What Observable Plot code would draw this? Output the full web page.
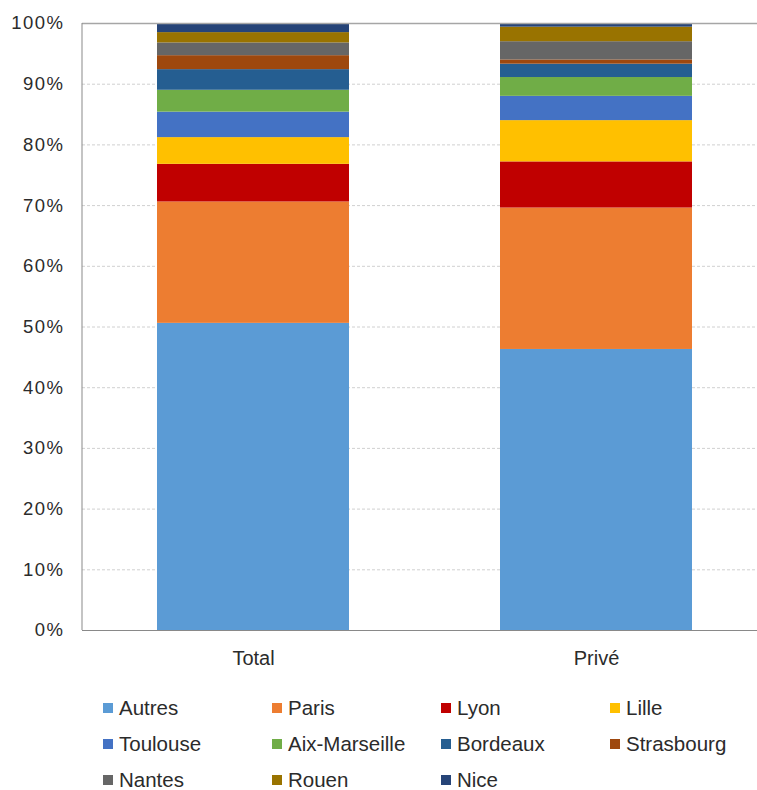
<!DOCTYPE html>
<html>
<head>
<meta charset="utf-8">
<script src="https://cdn.jsdelivr.net/npm/d3@7"></script>
<script src="https://cdn.jsdelivr.net/npm/@observablehq/plot@0.6"></script>
<style>
  html, body { margin: 0; padding: 0; background: #fff; }
  #wrap { width: 757px; height: 790px; overflow: hidden; font-family: "Liberation Sans", Arial, sans-serif; }
  #legend {
    margin-top: 10px;
    margin-left: 103px;
    display: grid;
    grid-template-columns: repeat(4, 169px);
    grid-template-rows: 36px 36px 28px;
  }
  .item { display: flex; align-items: center; font-size: 20.5px; line-height: 20px; height: 20px; margin-top: 8px; color: #2b2b2b; white-space: nowrap; }
  .sw { width: 10px; height: 10px; margin-right: 6px; flex: none; }
</style>
</head>
<body>
<div id="wrap"></div>
<script>
const categories = ["Total", "Privé"];
const cities = ["Autres", "Paris", "Lyon", "Lille", "Toulouse", "Aix-Marseille", "Bordeaux", "Strasbourg", "Nantes", "Rouen", "Nice"];
const totalShares = [50.6, 20.0, 6.2, 4.4, 4.2, 3.6, 3.4, 2.3, 2.1, 1.7, 1.5];
const priveShares = [46.3, 23.3, 7.6, 6.8, 4.0, 3.1, 2.2, 0.7, 3.0, 2.4, 0.6];
const cityColors = ["#5B9BD5", "#ED7D31", "#C00000", "#FFC000", "#4472C4", "#70AD47", "#255E91", "#9E480E", "#666666", "#997300", "#264478"];
const yTicks = [0, 10, 20, 30, 40, 50, 60, 70, 80, 90, 100];

const seriesByCategory = [totalShares, priveShares];
const rows = [];
categories.forEach((cat, ci) => {
  cities.forEach((city, i) => rows.push({category: cat, city, value: seriesByCategory[ci][i]}));
});

const font = '"Liberation Sans", Arial, sans-serif';

const chart = Plot.plot({
  width: 757,
  height: 680,
  marginTop: 23,
  marginBottom: 50,
  marginLeft: 82,
  marginRight: 0,
  style: {fontFamily: font, color: "#2b2b2b", background: "#fff", overflow: "visible"},
  x: {domain: categories, range: [82, 768], paddingInner: 0.44, paddingOuter: 0.22, label: null},
  y: {domain: [0, 100], label: null},
  color: {domain: cities, range: cityColors},
  marks: [
    Plot.ruleY(yTicks.filter(d => d > 0 && d < 100), {stroke: "#d0d0d0", strokeWidth: 1, strokeDasharray: "3,2"}),
    Plot.barY(rows, {x: "category", y: "value", fill: "city", order: null}),
    Plot.ruleY([100], {stroke: "#a6a6a6", strokeWidth: 1.5}),
    Plot.ruleY([0], {stroke: "#898989", strokeWidth: 1}),
    Plot.axisY({ticks: yTicks, tickFormat: d => d + "%", tickSize: 0, tickPadding: 18, fontSize: 18.5, label: null}),
    Plot.axisX({tickSize: 0, tickPadding: 20, fontSize: 20, label: null})
  ]
});

// widen the y tick labels like the reference
d3.select(chart).selectAll('[aria-label="y-axis tick label"] text').style("letter-spacing", "1.5px");

// left axis line, placed from the library's own scales
const xs = chart.scale("x"), ys = chart.scale("y");
d3.select(chart).append("line")
  .attr("x1", xs.range[0]).attr("x2", xs.range[0])
  .attr("y1", ys.range[0]).attr("y2", ys.range[1])
  .attr("stroke", "#898989").attr("stroke-width", 1);

const wrap = document.getElementById("wrap");
wrap.appendChild(chart);

const legend = document.createElement("div");
legend.id = "legend";
cities.forEach((c, i) => {
  const it = document.createElement("div");
  it.className = "item";
  const sw = document.createElement("span");
  sw.className = "sw";
  sw.style.background = cityColors[i];
  it.appendChild(sw);
  it.appendChild(document.createTextNode(c));
  legend.appendChild(it);
});
wrap.appendChild(legend);
</script>
</body>
</html>
